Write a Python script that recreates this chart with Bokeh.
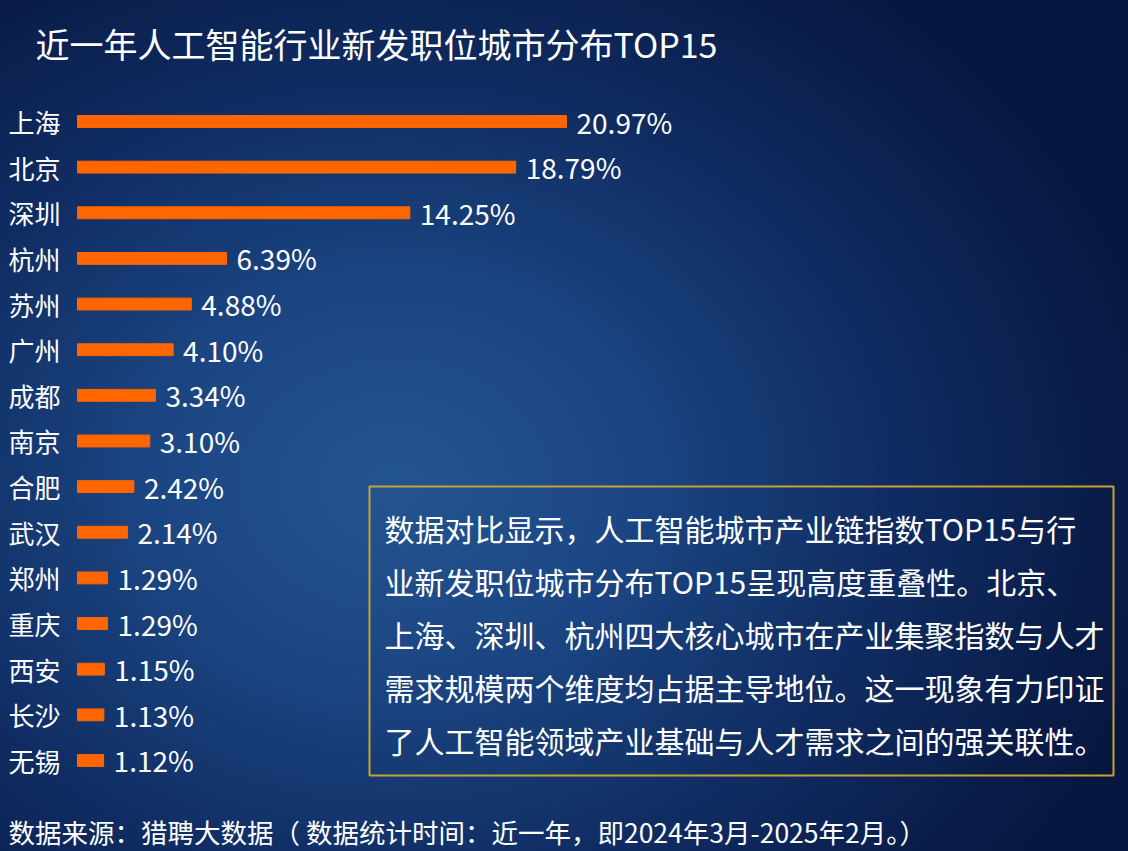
from bokeh.plotting import figure
from bokeh.models import Range1d, FixedTicker, Label, BoxAnnotation
from bokeh.core.properties import value
from bokeh.embed import file_html
from bokeh.resources import INLINE

# data
cities = ["上海", "北京", "深圳", "杭州", "苏州", "广州", "成都", "南京",
          "合肥", "武汉", "郑州", "重庆", "西安", "长沙", "无锡"]
shares = [20.97, 18.79, 14.25, 6.39, 4.88, 4.10, 3.34, 3.10,
          2.42, 2.14, 1.29, 1.29, 1.15, 1.13, 1.12]
share_labels = ["%.2f%%" % v for v in shares]

title_text = "近一年人工智能行业新发职位城市分布TOP15"
note_lines = [
    "数据对比显示，人工智能城市产业链指数TOP15与行",
    "业新发职位城市分布TOP15呈现高度重叠性。北京、",
    "上海、深圳、杭州四大核心城市在产业集聚指数与人才",
    "需求规模两个维度均占据主导地位。这一现象有力印证",
    "了人工智能领域产业基础与人才需求之间的强关联性。",
]
source_text = "数据来源：猎聘大数据（ 数据统计时间：近一年，即2024年3月-2025年2月。）"

FONT = "Noto Sans CJK SC"
W, H = 1128, 851
# layout: where the zero line / first row sit on the page, and pixels per unit
X0, PX_X = 77, 23.32
Y0, PX_Y = 121, 45.64


def dx(px):
    return (px - X0) / PX_X


def dy(px):
    return (px - Y0) / PX_Y


rows = list(range(len(cities)))

# the frame fills the whole canvas so the title and source can live inside it
p = figure(
    width=W,
    height=H,
    x_range=Range1d(dx(0), dx(W)),
    y_range=Range1d(dy(H), dy(0)),
    output_backend="svg",
    toolbar_location=None,
    min_border=0,
)
p.styles = {
    "background": "radial-gradient(ellipse 70% 75% at 35% 57%, #23558f 0%, #1b4683 30%, "
                  "#102d63 62%, #07163e 100%)"
}
p.background_fill_color = None
p.border_fill_color = None
p.outline_line_color = None
p.grid.visible = False
p.xaxis.visible = False

# city names on the y axis, pinned at the zero line
p.yaxis.fixed_location = 0
p.yaxis.ticker = FixedTicker(ticks=rows)
p.yaxis.major_label_overrides = {i: c for i, c in zip(rows, cities)}
p.yaxis.axis_line_color = None
p.yaxis.major_tick_line_color = None
p.yaxis.minor_tick_line_color = None
p.yaxis.major_tick_out = 0
p.yaxis.major_label_standoff = 17
p.yaxis.major_label_text_color = "white"
p.yaxis.major_label_text_font = FONT
p.yaxis.major_label_text_font_size = "26px"

# bars and value labels
p.hbar(y=rows, left=0, right=shares, height=0.26, color="#ff6600")
p.text(x=shares, y=rows, text=share_labels, x_offset=10,
       text_baseline="middle", text_color="white",
       text_font=value(FONT), text_font_size="28px")

# title and source
p.add_layout(Label(x=dx(35), y=dy(43), text=title_text, text_baseline="middle",
                   text_color="white", text_font=FONT, text_font_size="34px"))
p.add_layout(Label(x=dx(8), y=dy(831), text=source_text, text_baseline="middle",
                   text_color="white", text_font=FONT, text_font_size="26.5px"))

# note box
p.add_layout(BoxAnnotation(left=dx(369), right=dx(1113), top=dy(486), bottom=dy(775),
                           fill_color=None, line_color="#c8a036",
                           line_alpha=1.0, line_width=2))
note_y = [dy(527 + 53 * i) for i in range(len(note_lines))]
p.text(x=[dx(384)] * len(note_lines), y=note_y, text=note_lines,
       text_baseline="middle", text_color="white",
       text_font=value(FONT), text_font_size="30px")

open("out.html", "w").write(file_html(p, INLINE))
